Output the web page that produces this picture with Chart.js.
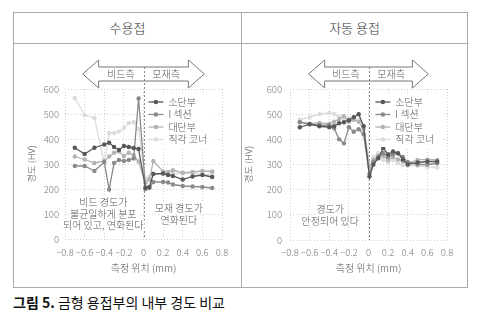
<!DOCTYPE html>
<html>
<head>
<meta charset="utf-8">
<script src="https://cdn.jsdelivr.net/npm/chart.js@4"></script>
<style>
  body { margin: 0; width: 483px; height: 327px; background: #fff; position: relative; overflow: hidden;
         font-family: 'Noto Sans CJK KR', 'Noto Sans', sans-serif; }
  .panel { position: absolute; top: 12px; height: 276px; border: 1px solid #aaa; box-sizing: border-box; }
  .head { height: 30px; border-bottom: 1px solid #aaa; text-align: center; line-height: 30px; font-size: 13px; font-weight: 300; color: #333; }
  #pl { left: 13px; width: 229px; }
  #pr { left: 241px; width: 227px; }
  canvas { position: absolute; }
  #cap { position: absolute; left: 13px; top: 292px; font-size: 14px; color: #111; }
  #cap b { font-weight: 700; }
</style>
</head>
<body>
<div class="panel" id="pl"><div class="head">수용접</div></div>
<div class="panel" id="pr"><div class="head">자동 용접</div></div>
<canvas id="left" width="227" height="245" style="left:14px;top:42px"></canvas>
<canvas id="right" width="224" height="245" style="left:242px;top:42px"></canvas>
<div id="cap"><b>그림 5.</b> 금형 용접부의 내부 경도 비교</div>
<script>
const SERIES = ["소단부", "I 섹션", "대단부", "직각 코너"];
const COLORS = ["#575757", "#8a8a8a", "#b3b3b3", "#dcdcdc"];

const X_TICKS = [-0.8, -0.6, -0.4, -0.2, 0, 0.2, 0.4, 0.6, 0.8];
const Y_TICKS = [0, 100, 200, 300, 400, 500, 600];

// 수용접
const HAND_X = [-0.7, -0.6, -0.5, -0.4, -0.35, -0.3, -0.25, -0.2, -0.15, -0.1, -0.05, 0.02, 0.06, 0.1, 0.2, 0.25, 0.3, 0.4, 0.5, 0.6, 0.7];
const HAND_SMALL = [365, 340, 365, 378, 385, 368, 356, 372, 368, 364, 360, 205, 208, 260, 262, 256, 252, 238, 250, 256, 248];
const HAND_ISEC = [292, 292, 272, 308, 198, 304, 316, 312, 316, 322, 562, 200, 204, 228, 228, 226, 218, 212, 210, 208, 204];
const HAND_LARGE = [330, 318, 304, 312, 330, 345, 350, 332, 345, 335, 310, 225, 238, 312, 270, 268, 275, 265, 268, 272, 270];
const HAND_CORNER = [564, 496, 484, 304, 424, 424, 430, 444, 464, 468, 440, 240, 250, 262, 258, 262, 262, 262, 262, 258, 258];

// 자동 용접
const AUTO_X = [-0.7, -0.6, -0.5, -0.4, -0.35, -0.3, -0.25, -0.2, -0.15, -0.1, -0.05, 0.01, 0.05, 0.1, 0.15, 0.2, 0.25, 0.3, 0.35, 0.4, 0.5, 0.6, 0.7];
const AUTO_SMALL = [448, 460, 452, 448, 452, 464, 468, 476, 488, 500, 452, 252, 300, 325, 365, 340, 352, 345, 320, 300, 308, 312, 312];
const AUTO_ISEC = [468, 460, 456, 456, 444, 400, 384, 448, 430, 440, 420, 262, 310, 330, 345, 330, 340, 345, 330, 310, 300, 300, 305];
const AUTO_LARGE = [470, 462, 465, 462, 470, 480, 492, 470, 478, 470, 440, 290, 318, 335, 335, 318, 330, 320, 312, 305, 318, 320, 318];
const AUTO_CORNER = [478, 488, 500, 506, 500, 490, 482, 484, 480, 476, 455, 300, 330, 345, 318, 310, 318, 305, 298, 295, 295, 290, 288];

const FONT = "'Noto Sans CJK KR', 'Noto Sans', sans-serif";
Chart.defaults.font.family = FONT;
Chart.defaults.font.weight = "300";
Chart.defaults.color = "#666";

function toPoints(xs, ys) {
    return xs.map((x, i) => ({ x: x, y: ys[i] }));
}

function fmt(v) {
    if (v === 0) return "0";
    return (v < 0 ? "\u2212" : "") + Math.abs(v).toFixed(1);
}

// arrow, zero line, in-plot legend and notes
const overlay = {
    id: "overlay",
    beforeDatasetsDraw(chart) {
        const { ctx, chartArea: a, scales: { x } } = chart;
        const x0 = Math.round(x.getPixelForValue(0)) + 0.5;
        ctx.save();
        ctx.strokeStyle = "#8a8a8a";
        ctx.lineWidth = 1;
        ctx.setLineDash([2, 2]);
        ctx.beginPath();
        ctx.moveTo(x0, a.top - 22);
        ctx.lineTo(x0, a.bottom);
        ctx.stroke();
        ctx.restore();
    },
    afterDatasetsDraw(chart, args, opts) {
        const { ctx, chartArea: a, scales: { x, y } } = chart;
        ctx.save();
        ctx.font = "300 10px " + FONT;
        ctx.textBaseline = "middle";

        // notes
        ctx.textAlign = "center";
        opts.notes.forEach(n => {
            const cx = x.getPixelForValue(n.x);
            const cy = y.getPixelForValue(n.y);
            const lh = 11.5;
            n.lines.forEach((t, i) => {
                const ty = cy + (i - (n.lines.length - 1) / 2) * lh;
                const w = ctx.measureText(t).width;
                ctx.fillStyle = "#fff";
                ctx.fillRect(cx - w / 2 - 1, ty - 5.5, w + 2, 11);
                ctx.fillStyle = "#555";
                ctx.fillText(t, cx, ty);
            });
        });

        // legend
        const lx = x.getPixelForValue(opts.legendX);
        const ly = a.top + 13;
        ctx.fillStyle = "#fff";
        ctx.fillRect(lx - 3, ly - 7, 70, 4 * 12.5 + 2);
        ctx.textAlign = "left";
        chart.data.datasets.forEach((ds, i) => {
            const yy = ly + i * 12.5;
            ctx.strokeStyle = ds.borderColor;
            ctx.lineWidth = 1.3;
            ctx.beginPath();
            ctx.moveTo(lx, yy);
            ctx.lineTo(lx + 15, yy);
            ctx.stroke();
            ctx.fillStyle = ds.borderColor;
            ctx.beginPath();
            ctx.arc(lx + 7.5, yy, 2.3, 0, Math.PI * 2);
            ctx.fill();
            ctx.fillStyle = "#555";
            ctx.fillText(ds.label, lx + 20, yy);
        });
        ctx.restore();
    },
    afterDraw(chart, args, opts) {
        const { ctx, chartArea: a, scales: { x } } = chart;
        const cy = a.top - 15;
        const xl = x.getPixelForValue(-opts.arrowTip);
        const xr = x.getPixelForValue(opts.arrowTip);
        const bl = xl + 16, br = xr - 16;
        ctx.save();
        ctx.strokeStyle = "#777";
        ctx.lineWidth = 1;
        ctx.beginPath();
        ctx.moveTo(xl, cy);
        ctx.lineTo(bl, cy - 14);
        ctx.lineTo(bl, cy - 7);
        ctx.lineTo(br, cy - 7);
        ctx.lineTo(br, cy - 14);
        ctx.lineTo(xr, cy);
        ctx.lineTo(br, cy + 14);
        ctx.lineTo(br, cy + 7);
        ctx.lineTo(bl, cy + 7);
        ctx.lineTo(bl, cy + 14);
        ctx.closePath();
        ctx.stroke();
        ctx.font = "300 10px " + FONT;
        ctx.fillStyle = "#555";
        ctx.textAlign = "center";
        ctx.textBaseline = "middle";
        ctx.fillText("비드측", x.getPixelForValue(-0.23), cy + 0.5);
        ctx.fillText("모재측", x.getPixelForValue(0.23), cy + 0.5);
        ctx.restore();
    }
};

function makeChart(id, xs, series, cfg) {
    const datasets = series.map((ys, i) => ({
        label: SERIES[i],
        data: toPoints(xs, ys),
        borderColor: COLORS[i],
        backgroundColor: COLORS[i],
        borderWidth: 1.3,
        pointRadius: 2.2,
        pointBorderWidth: 0,
        tension: 0
    }));
    return new Chart(document.getElementById(id), {
        type: "line",
        data: { datasets: datasets },
        plugins: [overlay],
        options: {
            responsive: false,
            animation: false,
            layout: { padding: { top: 47, right: 19, left: 0, bottom: 0 } },
            plugins: {
                legend: { display: false },
                tooltip: { enabled: false },
                overlay: { notes: cfg.notes, legendX: cfg.legendX, arrowTip: cfg.arrowTip }
            },
            scales: {
                x: {
                    type: "linear",
                    min: -0.8, max: 0.8,
                    afterBuildTicks: s => { s.ticks = X_TICKS.map(v => ({ value: v })); },
                    afterFit: s => { s.height = cfg.xH; },
                    ticks: { callback: v => fmt(v), font: { size: 9.5 }, color: "#777", padding: cfg.xPad, maxRotation: 0, autoSkip: false },
                    grid: { color: "#cfcfcf", lineWidth: 1, drawTicks: false },
                    border: { display: false, dash: [1, 2] },
                    title: { display: true, text: "측정 위치 (mm)", font: { size: 10 }, color: "#555", padding: { top: 0, bottom: 13 } }
                },
                y: {
                    min: 0, max: 600,
                    afterBuildTicks: s => { s.ticks = Y_TICKS.map(v => ({ value: v })); },
                    afterFit: s => { s.width = cfg.yW; },
                    ticks: { font: { size: 9.5 }, color: "#777", padding: cfg.yPad },
                    grid: { color: "#cfcfcf", lineWidth: 1, drawTicks: false },
                    border: { display: false, dash: [1, 2] },
                    title: { display: true, text: "경도 (HV)", font: { size: 9.5 }, color: "#555", padding: { top: cfg.yTitlePad, bottom: 0 } }
                }
            }
        }
    });
}

makeChart("left", HAND_X, [HAND_SMALL, HAND_ISEC, HAND_LARGE, HAND_CORNER], {
    xH: 48, yW: 51, xPad: 8, yPad: 6, yTitlePad: 12, legendX: 0.05, arrowTip: 0.62,
    notes: [
        { x: -0.41, y: 100, lines: ["비드 경도가", "불균일하게 분포", "되어 있고, 연화된다"] },
        { x: 0.36, y: 100, lines: ["모재 경도가", "연화된다"] }
    ]
});

makeChart("right", AUTO_X, [AUTO_SMALL, AUTO_ISEC, AUTO_LARGE, AUTO_CORNER], {
    xH: 47, yW: 48, xPad: 7, yPad: 8, yTitlePad: 1, legendX: 0.07, arrowTip: 0.61,
    notes: [
        { x: -0.39, y: 98, lines: ["경도가", "안정되어 있다"] }
    ]
});
</script>
</body>
</html>
